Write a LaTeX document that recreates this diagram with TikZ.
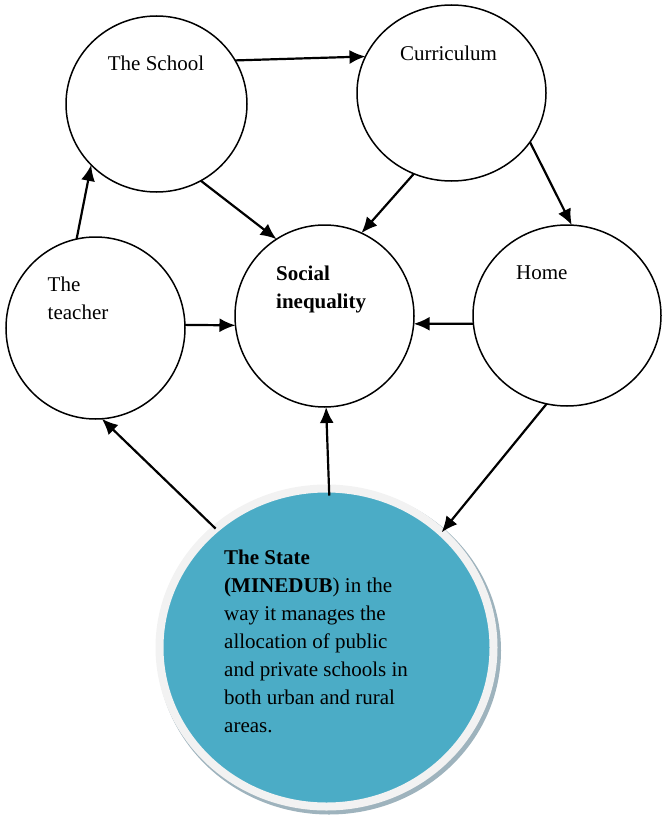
\documentclass[tikz,border=0pt]{standalone}
\usepackage{fontspec}
\setmainfont{Liberation Serif}
\usetikzlibrary{arrows.meta}
\usetikzlibrary{shapes.geometric}
\definecolor{myaqua}{RGB}{75,172,198}
\definecolor{mygrey}{RGB}{242,242,242}
\definecolor{myshade}{RGB}{158,179,189}

\begin{document}
\begin{tikzpicture}[x=1pt,y=-1pt,
  blob/.style={ellipse,draw,line width=1.5pt,inner sep=0,outer sep=0},
  link/.style={-{Latex[length=16pt,width=14pt]},line width=2.2pt},
  lbl/.style={inner sep=0,font=\fontsize{21}{28}\selectfont}]
\useasboundingbox (0,0) rectangle (661,816);

\node[blob,minimum width=181pt,minimum height=176pt] (school) at (156.5,104) {};
\node[blob,minimum width=189pt,minimum height=176pt] (curr) at (451.5,93) {};
\node[blob,minimum width=179pt,minimum height=182pt] (teacher) at (95.5,328) {};
\node[blob,minimum width=179pt,minimum height=182pt] (social) at (324.5,316) {};
\node[blob,minimum width=188pt,minimum height=181pt] (home) at (567,315.5) {};

% the state, with its pale rim and shadow
\fill[myshade] (329,650.5) ellipse [x radius=172pt, y radius=164pt];
\node[ellipse,fill=myaqua,draw=mygrey,line width=8pt,inner sep=0,outer sep=0,
  minimum width=334pt,minimum height=318pt] (state) at (326.5,647.5) {};

\node[lbl,anchor=base] (schooltxt) at (156,70.5) {The School};
\node[lbl,anchor=base] (currtxt) at (448.5,60) {Curriculum};
\node[lbl,anchor=north west,align=left] (teachertxt) at (47.5,276.5) {The\\teacher};
\node[lbl,anchor=north west,align=left,font=\fontsize{21}{28}\selectfont\bfseries] (socialtxt) at (276,265.7) {Social\\inequality};
\node[lbl,anchor=base west] (hometxt) at (516,279) {Home};
\node[lbl,anchor=north west,align=left] (statetxt) at (224,549.5) {\textbf{The State}\\
  \textbf{(MINEDUB}) in the\\
  way it manages the\\
  allocation of public\\
  and private schools in\\
  both urban and rural\\
  areas.};

\draw[link] (school.29) -- (curr.157);
\draw[link] (teacher.102) -- (school.223);
\draw[link] (school.-60) -- (social.122);
\draw[link] (curr.245) -- (social.66);
\draw[link] (curr.-32) -- (home.87);
\draw[link] (teacher.2) -- (social.186);
\draw[link] (home.185) -- (social.-5);
\draw[link] ([yshift=-7pt]state.89) -- (social.-89);
\draw[link] (state.133) -- (teacher.-86);
\draw[link] (home.257) -- (state.45);
\end{tikzpicture}
\end{document}
